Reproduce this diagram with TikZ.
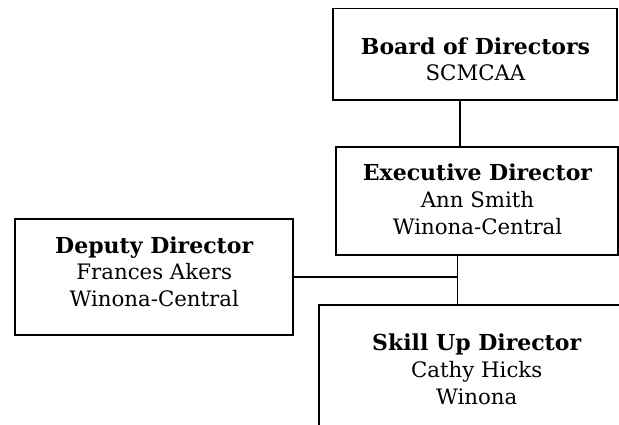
\documentclass[tikz,border=0pt]{standalone}
\usepackage{fontspec}
\setmainfont{DejaVu Serif}
\newcommand{\headline}[1]{{\fontsize{22}{26.7}\selectfont\bfseries #1}}
\begin{document}
\begin{tikzpicture}[x=1pt,y=-1pt,
  orgbox/.style={draw=black, line width=1.7pt, rectangle, inner sep=0pt},
  orgtxt/.style={align=center, inner sep=0pt, font=\fontsize{21.3}{26.7}\selectfont},
  link/.style={draw=black, line width=1.4pt}]
\useasboundingbox (0,0) rectangle (619,424);
\clip (0,0) rectangle (619,424);
% boxes
\node[orgbox, minimum width=284.6pt, minimum height=91.7pt] (board) at (475,54.2) {};
\node[orgbox, minimum width=282.6pt, minimum height=108.3pt] (exec) at (477,200.8) {};
\node[orgbox, minimum width=277.7pt, minimum height=116pt] (deputy) at (153.9,277) {};
\node[orgbox, minimum width=315pt, minimum height=129pt] (skill) at (476.7,369.5) {};
% texts
\node[orgtxt] (boardtxt) at (475.5,59.3) {\headline{Board of Directors}\\SCMCAA};
\node[orgtxt] (exectxt) at (477.5,199.3) {\headline{Executive Director}\\Ann Smith\\Winona-Central};
\node[orgtxt] (deputytxt) at (154.2,271.7) {\headline{Deputy Director}\\Frances Akers\\Winona-Central};
\node[orgtxt] (skilltxt) at (476.7,369.3) {\headline{Skill Up Director}\\Cathy Hicks\\Winona};
% connectors
\coordinate (c1) at (460,0);
\coordinate (j) at (457.7,277);
\draw[link] (board.south -| c1) -- (exec.north -| c1);
\draw[link] (exec.south -| j) -- (skill.north -| j);
\draw[link] (deputy.east) -- (j);
\end{tikzpicture}
\end{document}
